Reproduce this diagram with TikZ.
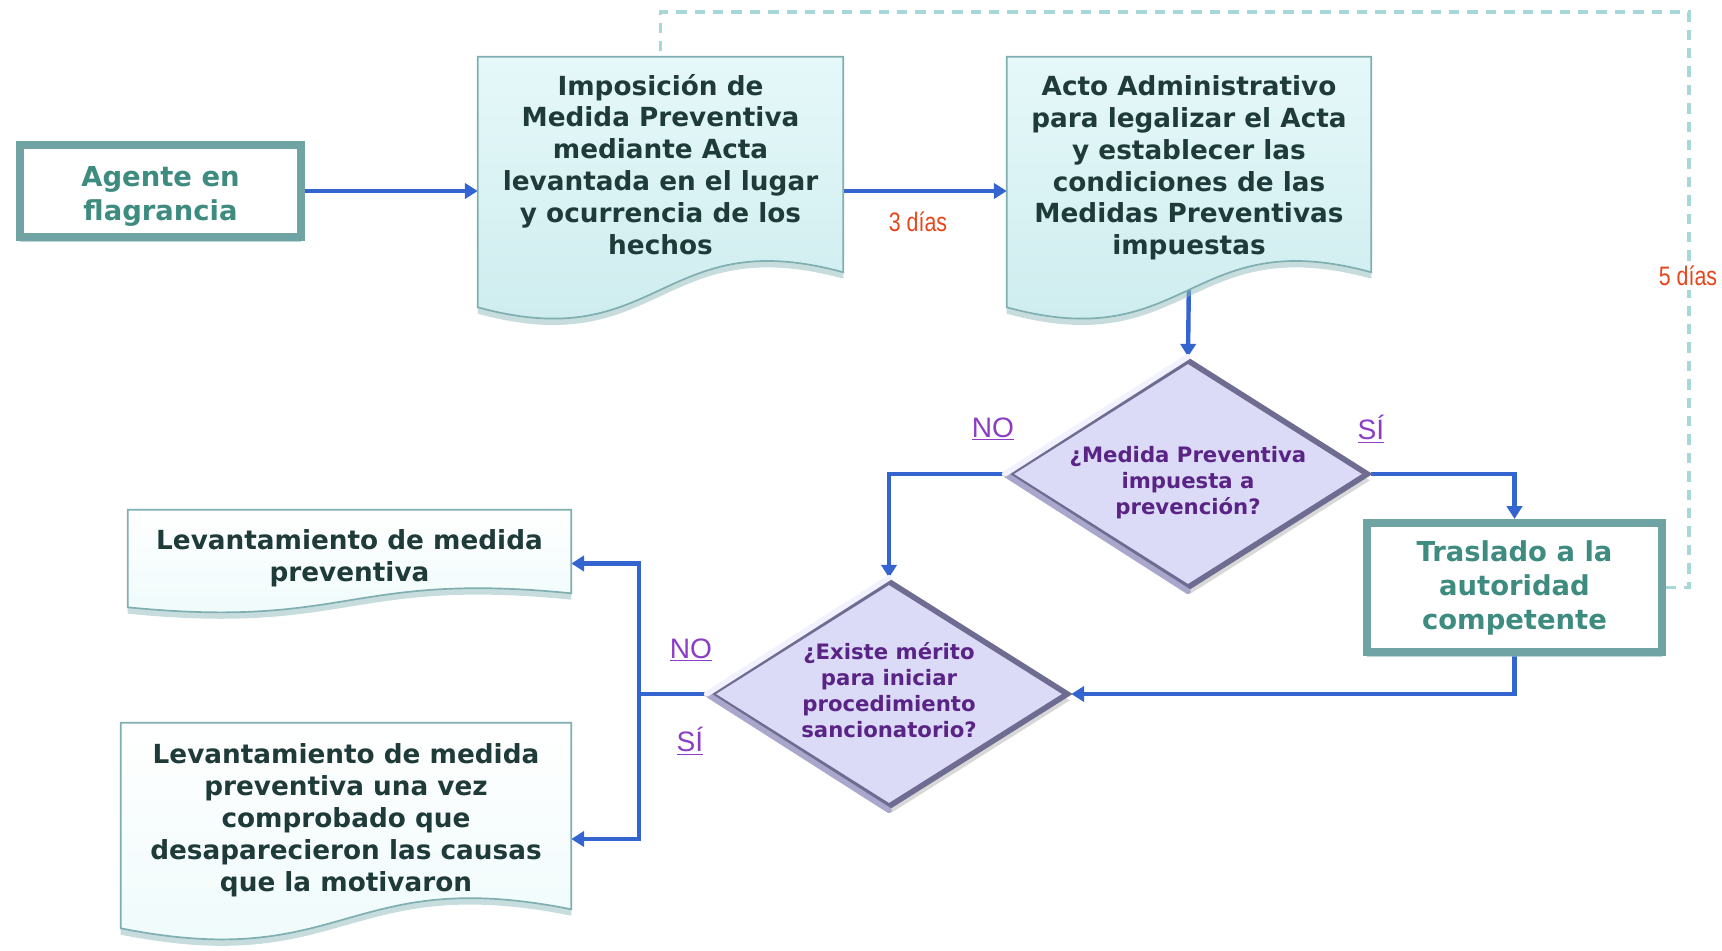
\documentclass[tikz,border=0pt]{standalone}
\usepackage{fontspec}
\setmainfont{DejaVu Sans}
\newfontfamily\labelfont{Liberation Sans}
\newfontfamily\narrowfont{Liberation Sans}[FakeStretch=0.8]
\usetikzlibrary{shapes.geometric,arrows.meta,calc,shadows,backgrounds}

\definecolor{flowblue}{HTML}{3464CF}
\definecolor{docfilltop}{HTML}{E6F8F9}
\definecolor{docfillbot}{HTML}{CBEBED}
\definecolor{docedge}{HTML}{7FAFB0}
\definecolor{docshadow}{HTML}{8FB9BA}
\definecolor{doctext}{HTML}{1F3B39}
\definecolor{framecol}{HTML}{6FA3A4}
\definecolor{frametext}{HTML}{3E8B80}
\definecolor{decfill}{HTML}{DBDAF7}
\definecolor{decedge}{HTML}{6F6C92}
\definecolor{declight}{HTML}{F2F1FF}
\definecolor{decmid}{HTML}{A9A7CC}
\definecolor{dectext}{HTML}{5A2487}
\definecolor{answercol}{HTML}{8C3DC6}
\definecolor{daysred}{HTML}{E6461C}
\definecolor{dashteal}{HTML}{A8D7D7}

\pgfdeclarelayer{lines}
\pgfsetlayers{lines,background,main}

\tikzset{
  docbox/.style 2 args={minimum width=#1, minimum height=#2, inner sep=0pt,
    align=center, text=doctext, font=\bfseries\fontsize{18.7}{22.7}\selectfont},
  docpaint/.style={top color=docfilltop, bottom color=docfillbot, draw=docedge,
    line width=1.2pt, drop shadow={fill=docshadow, opacity=.5, shadow xshift=0pt, shadow yshift=-1.6mm}},
  docpaintlight/.style={top color=white, bottom color=docfilltop!70!white, draw=docedge,
    line width=1.2pt, drop shadow={fill=docshadow, opacity=.5, shadow xshift=0pt, shadow yshift=-1.6mm}},
  framebox/.style 2 args={rectangle, minimum width=#1, minimum height=#2, inner sep=0pt,
    draw=framecol, line width=2mm, fill=white, align=center, text=frametext,
    font=\bfseries\fontsize{19.5}{24.2}\selectfont,
    drop shadow={fill=docshadow, opacity=.6, shadow xshift=0pt, shadow yshift=-1.2mm}},
  decision/.style 2 args={diamond, minimum width=#1, minimum height=#2, inner sep=0pt,
    fill=decfill, draw=decedge, line width=1.4mm,
    drop shadow={fill=black!30, opacity=.5, shadow xshift=0.6mm, shadow yshift=-1.6mm}},
  dectextstyle/.style={align=center, text=dectext, inner sep=0pt,
    font=\bfseries\fontsize{15.1}{18.4}\selectfont},
  bevellight/.style={draw=declight, line width=1.4mm, line cap=round},
  bevelmid/.style={draw=decmid, line width=1.4mm, line cap=round},
  answer/.style={text=answercol, font=\labelfont\fontsize{20}{22}\selectfont, inner sep=1pt},
  days/.style={text=daysred, font=\narrowfont\fontsize{19}{22}\selectfont, inner sep=1pt},
  flowline/.style={draw=flowblue, line width=1.1mm},
  flowarrow/.style={flowline, -{Triangle[length=3.2mm, width=3.8mm]}},
  dashline/.style={draw=dashteal, line width=0.8mm, dash pattern=on 2.6mm off 2mm}
}

% document shape: #1 paint style, #2 node, #3 drop of left end, #4 wave depth
\newcommand{\docshape}[4]{%
  \path[#1] (#2.north west) -- (#2.north east) -- (#2.south east)
    .. controls ($(#2.south)+(0,-#4)$) and ($(#2.south)+(0,#3+#4)$) .. ($(#2.south west)+(0,#3)$) -- cycle;}

\begin{document}
\begin{tikzpicture}[x=0.25mm, y=-0.25mm]
  \useasboundingbox (0,0) rectangle (1722,951);

  % Boxes of the process
  \node[framebox={70.25mm}{23mm}] (agente) at (160.5,191) {\rule{0pt}{22pt}Agente en\\flagrancia};
  \node[docbox={91.25mm}{53.75mm}] (impo) at (660.5,164.5)
    {Imposición de\\Medida Preventiva\\mediante Acta\\levantada en el lugar\\y ocurrencia de los\\hechos};
  \node[docbox={91mm}{53.75mm}] (acto) at (1189,164.5)
    {\rule{0pt}{19pt}Acto Administrativo\\para legalizar el Acta\\y establecer las\\condiciones de las\\Medidas Preventivas\\impuestas};
  \node[framebox={73.75mm}{32.25mm}] (traslado) at (1514.5,587.5) {Traslado a la\\autoridad\\competente};
  \node[docbox={110.75mm}{20.75mm}] (levanta) at (349.5,551.5)
    {\rule{0pt}{24pt}Levantamiento de medida\\preventiva};
  \node[docbox={112.5mm}{46.5mm}] (levantacausas) at (346,816)
    {\rule{0pt}{20pt}Levantamiento de medida\\preventiva una vez\\comprobado que\\desaparecieron las causas\\que la motivaron};

  % Decisions
  \node[decision={90.25mm}{57.25mm}] (medida) at (1188,474) {};
  \node[decision={89.75mm}{56.75mm}] (merito) at (889,694) {};
  \draw[bevelmid] (medida.west) -- (medida.south);
  \draw[bevellight] (medida.west) -- (medida.north);
  \draw[bevelmid] (merito.west) -- (merito.south);
  \draw[bevellight] (merito.west) -- (merito.north);
  \node[dectextstyle] (medidatext) at ($(medida)+(0,9)$) {¿Medida Preventiva\\impuesta a\\prevención?};
  \node[dectextstyle] (meritotext) at ($(merito)+(0,-4)$) {¿Existe mérito\\para iniciar\\procedimiento\\sancionatorio?};

  % Document outlines behind the texts
  \begin{scope}[on background layer]
    \docshape{docpaint}{impo}{35}{50}
    \docshape{docpaint}{acto}{35}{50}
    \docshape{docpaintlight}{levanta}{14}{22}
    \docshape{docpaintlight}{levantacausas}{19}{45}
  \end{scope}

  % Connectors
  \coordinate (fork) at (639,694);
  \coordinate (dashtop) at (1689,12);
  \begin{pgfonlayer}{lines}
    \draw[flowarrow] (agente.east) -- (impo.west |- agente.east);
    \draw[flowarrow] (impo.east |- agente.east) -- (acto.west |- agente.east);
    \draw[flowarrow] (acto.south) -- (medida.north);
    \draw[flowarrow] (medida.west) -| (merito.north);
    \draw[flowarrow] (medida.east) -| (traslado.north);
    \draw[flowarrow] (traslado.south) |- (merito.east);
    \draw[flowarrow] (merito.west) -- (fork) |- ($(levanta.east)+(0,12)$);
    \draw[flowarrow] (fork) |- ($(levantacausas.east)+(0,23)$);
    \draw[dashline] (traslado.east) -| (dashtop) -| (impo.north);
  \end{pgfonlayer}

  % Labels
  \node[days] (tresdias) at (918,222) {3 días};
  \node[days, fill=white, inner sep=3pt] (cincodias) at (1688,276) {5 días};
  \node[answer] (nomedida) at (993,429) {\underline{NO}};
  \node[answer] (simedida) at (1371,429) {\underline{SÍ}};
  \node[answer] (nomerito) at (691,650) {\underline{NO}};
  \node[answer] (simerito) at (690,741) {\underline{SÍ}};
\end{tikzpicture}
\end{document}
